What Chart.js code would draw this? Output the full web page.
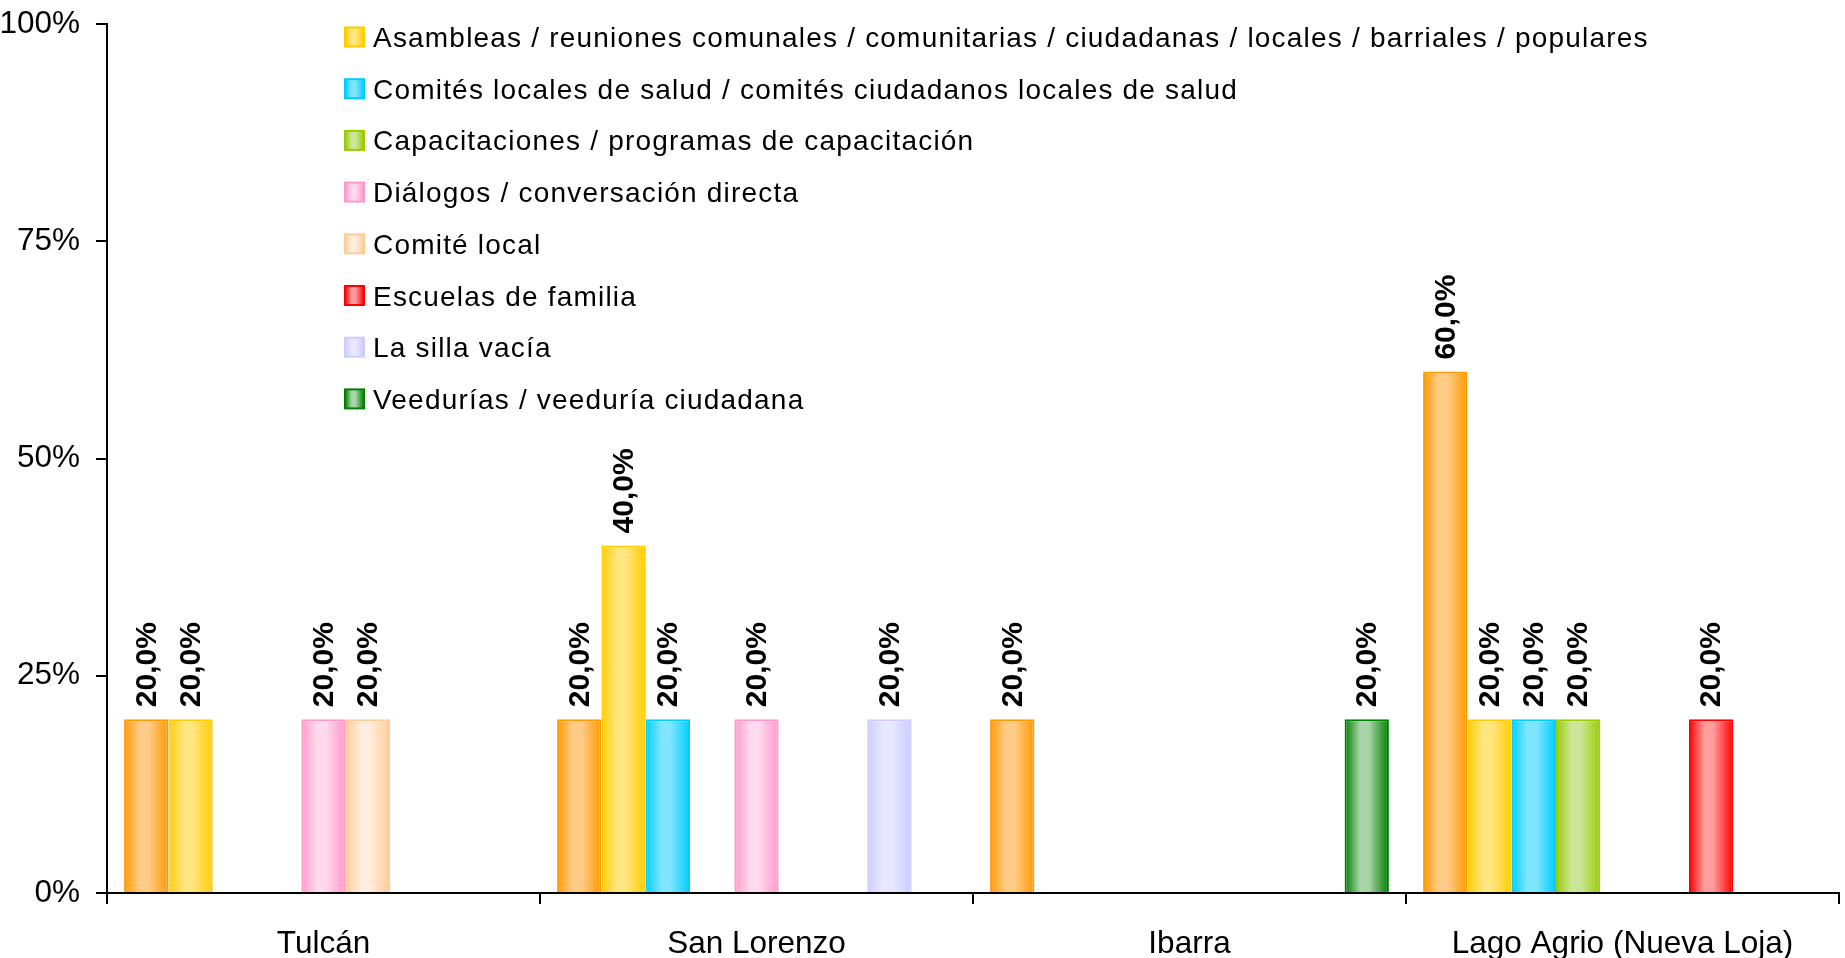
<!DOCTYPE html>
<html>
<head>
<meta charset="utf-8">
<script src="https://cdn.jsdelivr.net/npm/chart.js@4"></script>
<style>
    html, body { margin: 0; padding: 0; background: #fff; }
    #wrap { width: 1845px; height: 958px; }
</style>
</head>
<body>
<div id="wrap"><canvas id="chart"></canvas></div>
<script>
// --- DATA ---
const cities = ['Tulcán', 'San Lorenzo', 'Ibarra', 'Lago Agrio (Nueva Loja)'];

const seriesNames = [
    '',
    'Asambleas / reuniones comunales / comunitarias / ciudadanas / locales / barriales / populares',
    'Comités locales de salud / comités ciudadanos locales de salud',
    'Capacitaciones / programas de capacitación',
    'Diálogos / conversación directa',
    'Comité local',
    'Escuelas de familia',
    'La silla vacía',
    'Veedurías / veeduría ciudadana'
];

// one value per city (null = no bar)
const sinNombre      = [20, 20, 20, 60];
const asambleas      = [20, 40, null, 20];
const comitesSalud   = [null, 20, null, 20];
const capacitaciones = [null, null, null, 20];
const dialogos       = [20, 20, null, null];
const comiteLocal    = [20, null, null, null];
const escuelas       = [null, null, null, 20];
const sillaVacia     = [null, 20, null, null];
const veedurias      = [null, null, 20, null];

const seriesValues = [sinNombre, asambleas, comitesSalud, capacitaciones, dialogos, comiteLocal, escuelas, sillaVacia, veedurias];

const edgeColors  = ['#FF9900', '#FFCC00', '#00CCFF', '#99CC00', '#FF99CC', '#FFCC99', '#FF0000', '#CCCCFF', '#008000'];
const lightColors = ['#FFCC88', '#FFE680', '#80E6FF', '#CCE699', '#FFD9EC', '#FFEEDD', '#FF9C9C', '#E8E8FF', '#A8D4A8'];

const FONT = '"Liberation Sans", Arial, sans-serif';

// --- PLUGINS ---
function barGradient(ctx, x0, x1, i) {
    const g = ctx.createLinearGradient(x0, 0, x1, 0);
    g.addColorStop(0, edgeColors[i]);
    g.addColorStop(0.35, lightColors[i]);
    g.addColorStop(0.55, lightColors[i]);
    g.addColorStop(1, edgeColors[i]);
    return g;
}

const cylinderFill = {
    id: 'cylinderFill',
    beforeDatasetsDraw(chart) {
        const ctx = chart.ctx;
        chart.data.datasets.forEach((ds, i) => {
            chart.getDatasetMeta(i).data.forEach(bar => {
                const { x, width } = bar.getProps(['x', 'width'], true);
                bar.options = Object.assign({}, bar.options, {
                    backgroundColor: barGradient(ctx, x - width / 2, x + width / 2, i)
                });
            });
        });
    }
};

const valueLabels = {
    id: 'valueLabels',
    afterDatasetsDraw(chart) {
        const ctx = chart.ctx;
        ctx.save();
        ctx.fillStyle = '#000';
        ctx.font = 'bold 30px ' + FONT;
        ctx.textAlign = 'left';
        ctx.textBaseline = 'middle';
        chart.data.datasets.forEach((ds, i) => {
            chart.getDatasetMeta(i).data.forEach((bar, j) => {
                const v = ds.data[j];
                if (v === null || v === undefined) return;
                const { x, y } = bar.getProps(['x', 'y'], true);
                ctx.save();
                ctx.translate(x + 1, y - 12);
                ctx.rotate(-Math.PI / 2);
                ctx.fillText(v.toFixed(1).replace('.', ',') + '%', 0, 0);
                ctx.restore();
            });
        });
        ctx.restore();
    }
};

const insideLegend = {
    id: 'insideLegend',
    afterDraw(chart) {
        const ctx = chart.ctx;
        ctx.save();
        ctx.font = '28px ' + FONT;
        ctx.letterSpacing = '1.2px';
        ctx.textAlign = 'left';
        ctx.textBaseline = 'alphabetic';
        let row = 0;
        chart.data.datasets.forEach((ds, i) => {
            if (!ds.label) return;
            const cy = 37 + row * 51.7;
            const bx = 345, size = 19;
            ctx.fillStyle = barGradient(ctx, bx, bx + size, i);
            ctx.fillRect(bx, cy - size / 2, size, size);
            ctx.strokeStyle = edgeColors[i];
            ctx.lineWidth = 2;
            ctx.strokeRect(bx, cy - size / 2, size, size);
            ctx.fillStyle = '#000';
            ctx.fillText(ds.label, 373, cy + 10);
            row++;
        });
        ctx.restore();
    }
};

// --- CHART ---
const datasets = seriesValues.map((vals, i) => ({
    label: seriesNames[i],
    data: vals,
    backgroundColor: () => lightColors[i],
    borderColor: edgeColors[i],
    borderWidth: 2,
    borderSkipped: 'bottom',
    barPercentage: 1.0,
    categoryPercentage: 0.921
}));

new Chart(document.getElementById('chart'), {
    type: 'bar',
    data: { labels: cities, datasets },
    options: {
        responsive: true,
        maintainAspectRatio: false,
        animation: false,
        layout: { padding: { top: 24, right: 6, left: 0, bottom: 0 } },
        plugins: {
            legend: { display: false },
            tooltip: { enabled: false }
        },
        scales: {
            x: {
                grid: { display: true, offset: true, drawOnChartArea: false, tickLength: 11, color: '#000', lineWidth: 2 },
                border: { display: true, color: '#000', width: 2 },
                ticks: { color: '#000', font: { family: FONT, size: 31.5 }, padding: 21, maxRotation: 0 },
                afterFit(scale) {
                    scale.height = 65;
                    scale.paddingLeft = 0;
                    scale.paddingRight = 0;
                }
            },
            y: {
                min: 0,
                max: 100,
                ticks: {
                    stepSize: 25,
                    color: '#000',
                    font: { family: FONT, size: 31.5 },
                    padding: 16,
                    callback: v => v + '%'
                },
                grid: { display: true, drawOnChartArea: false, tickLength: 11, color: '#000', lineWidth: 2 },
                border: { display: true, color: '#000', width: 2 },
                afterFit(scale) {
                    scale.width = 107;
                    scale.paddingTop = 0;
                    scale.paddingBottom = 0;
                }
            }
        }
    },
    plugins: [cylinderFill, valueLabels, insideLegend]
});
</script>
</body>
</html>
